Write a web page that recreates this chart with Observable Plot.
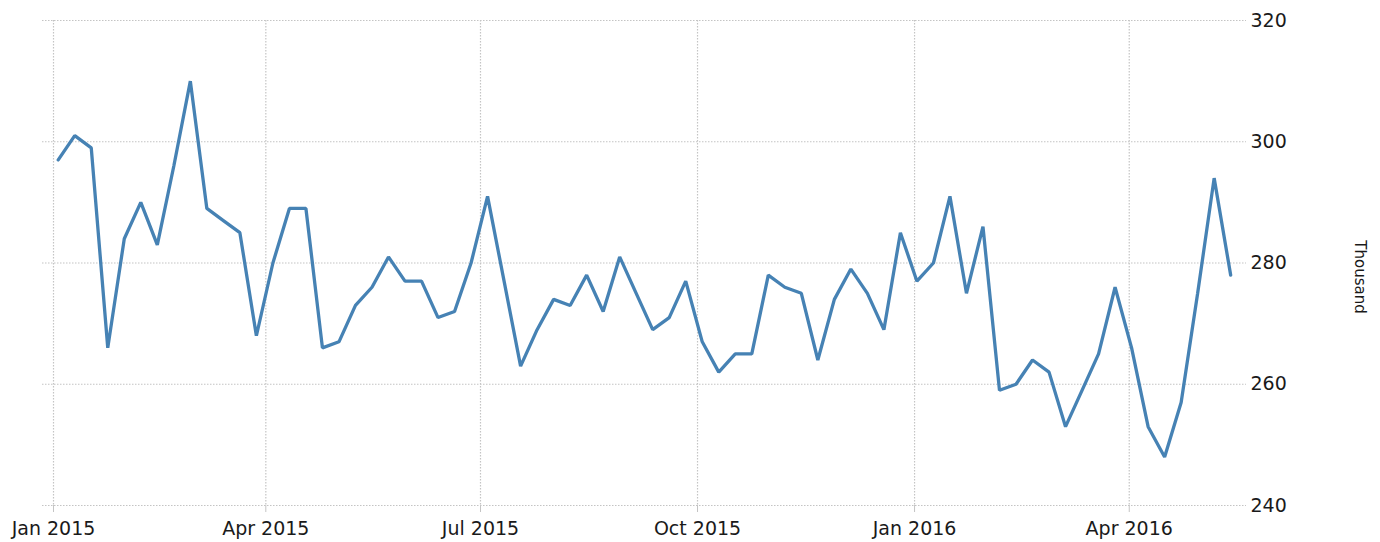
<!DOCTYPE html>
<html>
<head>
<meta charset="utf-8">
<script src="https://cdn.jsdelivr.net/npm/d3@7"></script>
<script src="https://cdn.jsdelivr.net/npm/@observablehq/plot@0.6"></script>
<style>
  html, body { margin: 0; padding: 0; background: #fff; }
</style>
</head>
<body>
<div id="chart"></div>
<script>
// Week-ending dates
const weeks = [
  "2015-01-03","2015-01-10","2015-01-17","2015-01-24","2015-01-31",
  "2015-02-07","2015-02-14","2015-02-21","2015-02-28",
  "2015-03-07","2015-03-14","2015-03-21","2015-03-28",
  "2015-04-04","2015-04-11","2015-04-18","2015-04-25",
  "2015-05-02","2015-05-09","2015-05-16","2015-05-23","2015-05-30",
  "2015-06-06","2015-06-13","2015-06-20","2015-06-27",
  "2015-07-04","2015-07-11","2015-07-18","2015-07-25",
  "2015-08-01","2015-08-08","2015-08-15","2015-08-22","2015-08-29",
  "2015-09-05","2015-09-12","2015-09-19","2015-09-26",
  "2015-10-03","2015-10-10","2015-10-17","2015-10-24","2015-10-31",
  "2015-11-07","2015-11-14","2015-11-21","2015-11-28",
  "2015-12-05","2015-12-12","2015-12-19","2015-12-26",
  "2016-01-02","2016-01-09","2016-01-16","2016-01-23","2016-01-30",
  "2016-02-06","2016-02-13","2016-02-20","2016-02-27",
  "2016-03-05","2016-03-12","2016-03-19","2016-03-26",
  "2016-04-02","2016-04-09","2016-04-16","2016-04-23","2016-04-30",
  "2016-05-07","2016-05-14"
];

// Values (thousand)
const claims = [
  297, 301, 299, 266, 284,
  290, 283, 296, 310,
  289, 287, 285, 268,
  280, 289, 289, 266,
  267, 273, 276, 281, 277,
  277, 271, 272, 280,
  291, 277, 263, 269,
  274, 273, 278, 272, 281,
  275, 269, 271, 277,
  267, 262, 265, 265, 278,
  276, 275, 264, 274,
  279, 275, 269, 285,
  277, 280, 291, 275, 286,
  259, 260, 264, 262,
  253, 259, 265, 276,
  266, 253, 248, 257, 275,
  294, 278
];

const yTicks = [240, 260, 280, 300, 320];
const xTickDates = ["2015-01-01", "2015-04-01", "2015-07-01", "2015-10-01", "2016-01-01", "2016-04-01"];
const unitLabel = ["Thousand"];

const data = weeks.map((d, i) => ({date: new Date(d), value: claims[i]}));
const xTicks = xTickDates.map(d => new Date(d));

const chart = Plot.plot({
  width: 1380,
  height: 542,
  marginTop: 20,
  marginBottom: 37,
  marginLeft: 42,
  marginRight: 134,
  style: {fontFamily: "'DejaVu Sans', sans-serif", fontSize: "19px", color: "#1a1a1a", background: "#fff"},
  x: {type: "utc", domain: [new Date("2014-12-27T08:00:00Z"), new Date("2016-05-20T17:00:00Z")]},
  y: {domain: [240, 320]},
  marks: [
    Plot.gridY(yTicks, {stroke: "#c4c4c4", strokeOpacity: 1, strokeDasharray: "1.5,1.5", strokeWidth: 1.2}),
    Plot.gridX(xTicks, {stroke: "#c4c4c4", strokeOpacity: 1, strokeDasharray: "1.5,1.5", strokeWidth: 1.2}),
    Plot.axisX(xTicks, {tickSize: 7, tickPadding: 9, tickFormat: d3.utcFormat("%b %Y"), stroke: "#c4c4c4", fill: "#1a1a1a", label: null}),
    Plot.axisY(yTicks, {anchor: "right", tickSize: 0, tickPadding: 4, fill: "#1a1a1a", label: null}),
    Plot.line(data, {x: "date", y: "value", stroke: "#4682b4", strokeWidth: 3.3, strokeLinejoin: "miter"}),
    Plot.text(unitLabel, {frameAnchor: "right", textAnchor: "middle", rotate: 90, dx: 113, dy: 14, fontSize: 15, fill: "#1a1a1a"})
  ]
});

document.getElementById("chart").appendChild(chart);
</script>
</body>
</html>
